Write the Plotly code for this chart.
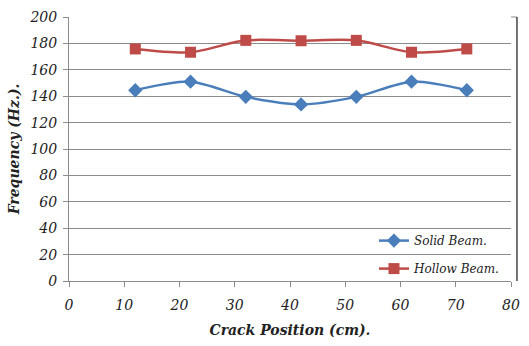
import plotly.graph_objects as go

# Crack position along the beam (cm)
crack_position = [12, 22, 32, 42, 52, 62, 72]
# Natural frequency (Hz) for each beam type
solid_beam = [144.5, 151, 139.5, 133.8, 139.5, 151, 144.5]
hollow_beam = [175.8, 173.3, 182.3, 182, 182.3, 173.3, 175.8]

x_ticks = [0, 10, 20, 30, 40, 50, 60, 70, 80]
y_ticks = [0, 20, 40, 60, 80, 100, 120, 140, 160, 180, 200]

SERIF = "DejaVu Serif"
BLUE = "#4A7EBB"
RED = "#BE4B48"
GRID = "#8C8C8C"
TEXT = "#222222"

fig = go.Figure()
fig.add_trace(go.Scatter(
    x=crack_position, y=solid_beam, name="Solid Beam.", legendgroup="solid",
    mode="lines+markers",
    line=dict(color=BLUE, width=2.5, shape="spline", smoothing=0.8),
    marker=dict(symbol="diamond", size=11, color=BLUE),
))
fig.add_trace(go.Scatter(
    x=crack_position, y=hollow_beam, name="Hollow Beam.", legendgroup="hollow",
    mode="lines+markers",
    line=dict(color=RED, width=2.5, shape="spline", smoothing=0.8),
    marker=dict(symbol="square", size=11, color=RED),
))

fig.update_layout(
    width=529, height=346,
    margin=dict(l=69, r=17, t=9, b=65),
    paper_bgcolor="white", plot_bgcolor="white",
    font=dict(family=SERIF, color=TEXT),
    showlegend=True,
    legend=dict(
        x=0.69, y=0.10, xanchor="left", yanchor="middle",
        bgcolor="rgba(255,255,255,0)",
        font=dict(family=SERIF, size=12, style="italic", color=TEXT),
        traceorder="grouped", tracegroupgap=9, itemwidth=30,
    ),
)

fig.update_xaxes(
    range=[0, 80], tickvals=x_ticks, ticktext=[str(v) for v in x_ticks],
    showgrid=False, zeroline=False,
    showline=True, linecolor=GRID, linewidth=1,
    ticks="outside", ticklen=5, tickcolor=GRID, ticklabelstandoff=6,
    tickfont=dict(family=SERIF, size=14, style="italic", color=TEXT),
    title=dict(text="<b>Crack Position (cm).</b>", standoff=13,
               font=dict(family=SERIF, size=14, style="italic", color=TEXT)),
)
fig.update_yaxes(
    range=[0, 200], tickvals=y_ticks, ticktext=[str(v) for v in y_ticks],
    showgrid=True, gridcolor=GRID, gridwidth=1, zeroline=False,
    showline=True, linecolor=GRID, linewidth=1,
    ticks="outside", ticklen=5, tickcolor=GRID, ticklabelstandoff=3,
    tickfont=dict(family=SERIF, size=14, style="italic", color=TEXT),
    title=dict(text="<b>Frequency (Hz.).</b>", standoff=6,
               font=dict(family=SERIF, size=14, style="italic", color=TEXT)),
)

# Outer frame on the right side of the chart
fig.add_shape(type="line", xref="paper", yref="paper",
              x0=1.0, x1=1.0135, y0=1, y1=1, line=dict(color=GRID, width=1))
fig.add_shape(type="line", xref="paper", yref="paper",
              x0=1.0135, x1=1.0135, y0=0, y1=1, line=dict(color="#444444", width=1.5))

fig.write_html("out.html")
